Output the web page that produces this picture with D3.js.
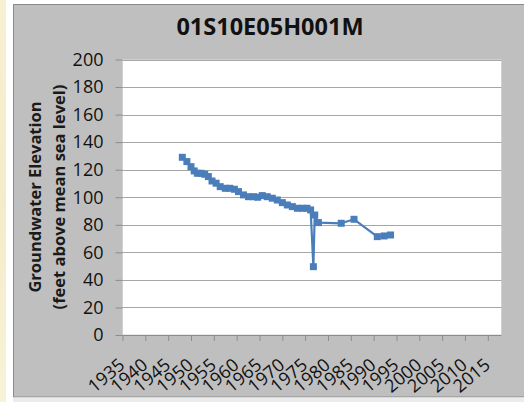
<!DOCTYPE html>
<html>
<head>
<meta charset="utf-8">
<script src="https://cdn.jsdelivr.net/npm/d3@7"></script>
<style>
  html, body { margin: 0; padding: 0; background: #ffffff; }
  svg { display: block; }
</style>
</head>
<body>
<div id="chart"></div>
<script>
"use strict";

var chartTitle = "01S10E05H001M";
var yLabelLines = ["Groundwater Elevation", "(feet above mean sea level)"];

var years = [1948.1, 1949.1, 1950.0, 1950.7, 1951.4, 1952.2, 1953.0, 1953.8,
    1954.6, 1955.5, 1956.4, 1957.5, 1958.5, 1959.5, 1960.4, 1961.5, 1962.6,
    1963.7, 1964.6, 1965.6, 1966.7, 1967.8, 1968.9, 1970.0, 1971.1, 1972.2,
    1973.3, 1974.4, 1975.4, 1976.2, 1976.8, 1977.1, 1977.9, 1982.9, 1985.7,
    1990.8, 1992.3, 1993.7];
var elevations = [129.0, 125.9, 122.2, 119.1, 117.4, 117.4, 116.7, 115.0,
    111.8, 110.2, 107.7, 106.5, 106.5, 105.8, 104.1, 101.7, 100.4,
    100.4, 100.0, 101.2, 100.4, 99.3, 98.0, 96.1, 94.4, 93.2,
    92.0, 92.0, 92.0, 90.8, 49.6, 87.1, 81.6, 81.1, 84.0,
    71.4, 71.9, 72.6];

var xTicks = d3.range(1935, 2016, 5);
var yTicks = d3.range(0, 201, 20);

var W = 524, H = 402;
var plot = { left: 122.5, right: 501.5, top: 59.5, bottom: 335 };

var svg = d3.select("#chart").append("svg")
    .attr("width", W)
    .attr("height", H);

// parchment strip at the left edge
var grad = svg.append("defs").append("linearGradient")
    .attr("id", "parch").attr("x1", 0).attr("y1", 0).attr("x2", 0).attr("y2", 1);
grad.append("stop").attr("offset", "0%").attr("stop-color", "#f7f1d3");
grad.append("stop").attr("offset", "50%").attr("stop-color", "#f3ecc8");
grad.append("stop").attr("offset", "100%").attr("stop-color", "#f8f3d8");
svg.append("rect").attr("x", 0).attr("y", 0).attr("width", 6).attr("height", H)
    .attr("fill", "url(#parch)");

// chart box
svg.append("rect")
    .attr("x", 13.5).attr("y", 4.5)
    .attr("width", W).attr("height", 392.5)
    .attr("fill", "#bfbfbf")
    .attr("stroke", "#8a8a8a")
    .attr("stroke-width", 1);
svg.append("rect")
    .attr("x", 13).attr("y", 397.5).attr("width", W).attr("height", 5)
    .attr("fill", "#ececec");

var x = d3.scaleLinear().domain([1935, 2018]).range([plot.left, plot.right]);
var y = d3.scaleLinear().domain([0, 200]).range([plot.bottom, plot.top]);

// plot area
svg.append("rect")
    .attr("x", plot.left).attr("y", plot.top)
    .attr("width", plot.right - plot.left)
    .attr("height", plot.bottom - plot.top)
    .attr("fill", "#ffffff")
    .attr("stroke", "#d0d0d0")
    .attr("stroke-width", 1);

// horizontal gridlines
svg.append("g")
    .selectAll("line")
    .data(yTicks.filter(function (d) { return d > 0; }))
    .join("line")
    .attr("x1", plot.left).attr("x2", plot.right)
    .attr("y1", function (d) { return Math.round(y(d)) + 0.5; })
    .attr("y2", function (d) { return Math.round(y(d)) + 0.5; })
    .attr("stroke", "#a6a6a6")
    .attr("stroke-width", 1);

var font = "'Open Sans', sans-serif";

// y axis
var yAxis = svg.append("g")
    .attr("transform", "translate(" + plot.left + ",0)")
    .call(d3.axisLeft(y).tickValues(yTicks).tickSize(7).tickPadding(12));
yAxis.select(".domain").remove();
yAxis.selectAll(".tick line").attr("stroke", "#8c8c8c");
yAxis.selectAll(".tick text")
    .attr("fill", "#111")
    .style("font-family", font)
    .style("font-size", "18px");

// x axis
var xAxis = svg.append("g")
    .attr("transform", "translate(0," + plot.bottom + ")")
    .call(d3.axisBottom(x).tickValues(xTicks).tickSize(6).tickFormat(d3.format("d")));
xAxis.select(".domain")
    .attr("d", "M" + plot.left + ",0.5H" + plot.right)
    .attr("stroke", "#8c8c8c");
xAxis.selectAll(".tick line").attr("stroke", "#8c8c8c");
xAxis.selectAll(".tick text")
    .attr("fill", "#111")
    .style("font-family", font)
    .style("font-size", "18px")
    .attr("text-anchor", "end")
    .attr("dy", null)
    .attr("y", 0)
    .attr("transform", "translate(3,32) rotate(-40)");

// series
var pts = years.map(function (d, i) { return [d, elevations[i]]; });
var color = "#4a7ebb";

svg.append("path")
    .datum(pts)
    .attr("fill", "none")
    .attr("stroke", color)
    .attr("stroke-width", 2.2)
    .attr("stroke-linejoin", "round")
    .attr("d", d3.line()
        .x(function (d) { return x(d[0]); })
        .y(function (d) { return y(d[1]); }));

svg.append("g")
    .selectAll("rect")
    .data(pts)
    .join("rect")
    .attr("x", function (d) { return x(d[0]) - 3.5; })
    .attr("y", function (d) { return y(d[1]) - 3.5; })
    .attr("width", 7).attr("height", 7)
    .attr("fill", color);

// title
svg.append("text")
    .attr("x", 270).attr("y", 35)
    .attr("text-anchor", "middle")
    .style("font-family", font)
    .style("font-weight", "bold")
    .style("font-size", "23.5px")
    .attr("fill", "#111")
    .text(chartTitle);

// y axis title (two lines)
svg.append("g")
    .attr("transform", "translate(40.5,197) rotate(-90)")
    .selectAll("text")
    .data(yLabelLines)
    .join("text")
    .attr("x", 0)
    .attr("y", function (d, i) { return i * 24; })
    .attr("text-anchor", "middle")
    .style("font-family", font)
    .style("font-weight", "bold")
    .style("font-size", "16.5px")
    .attr("fill", "#1a1a1a")
    .text(function (d) { return d; });
</script>
</body>
</html>
